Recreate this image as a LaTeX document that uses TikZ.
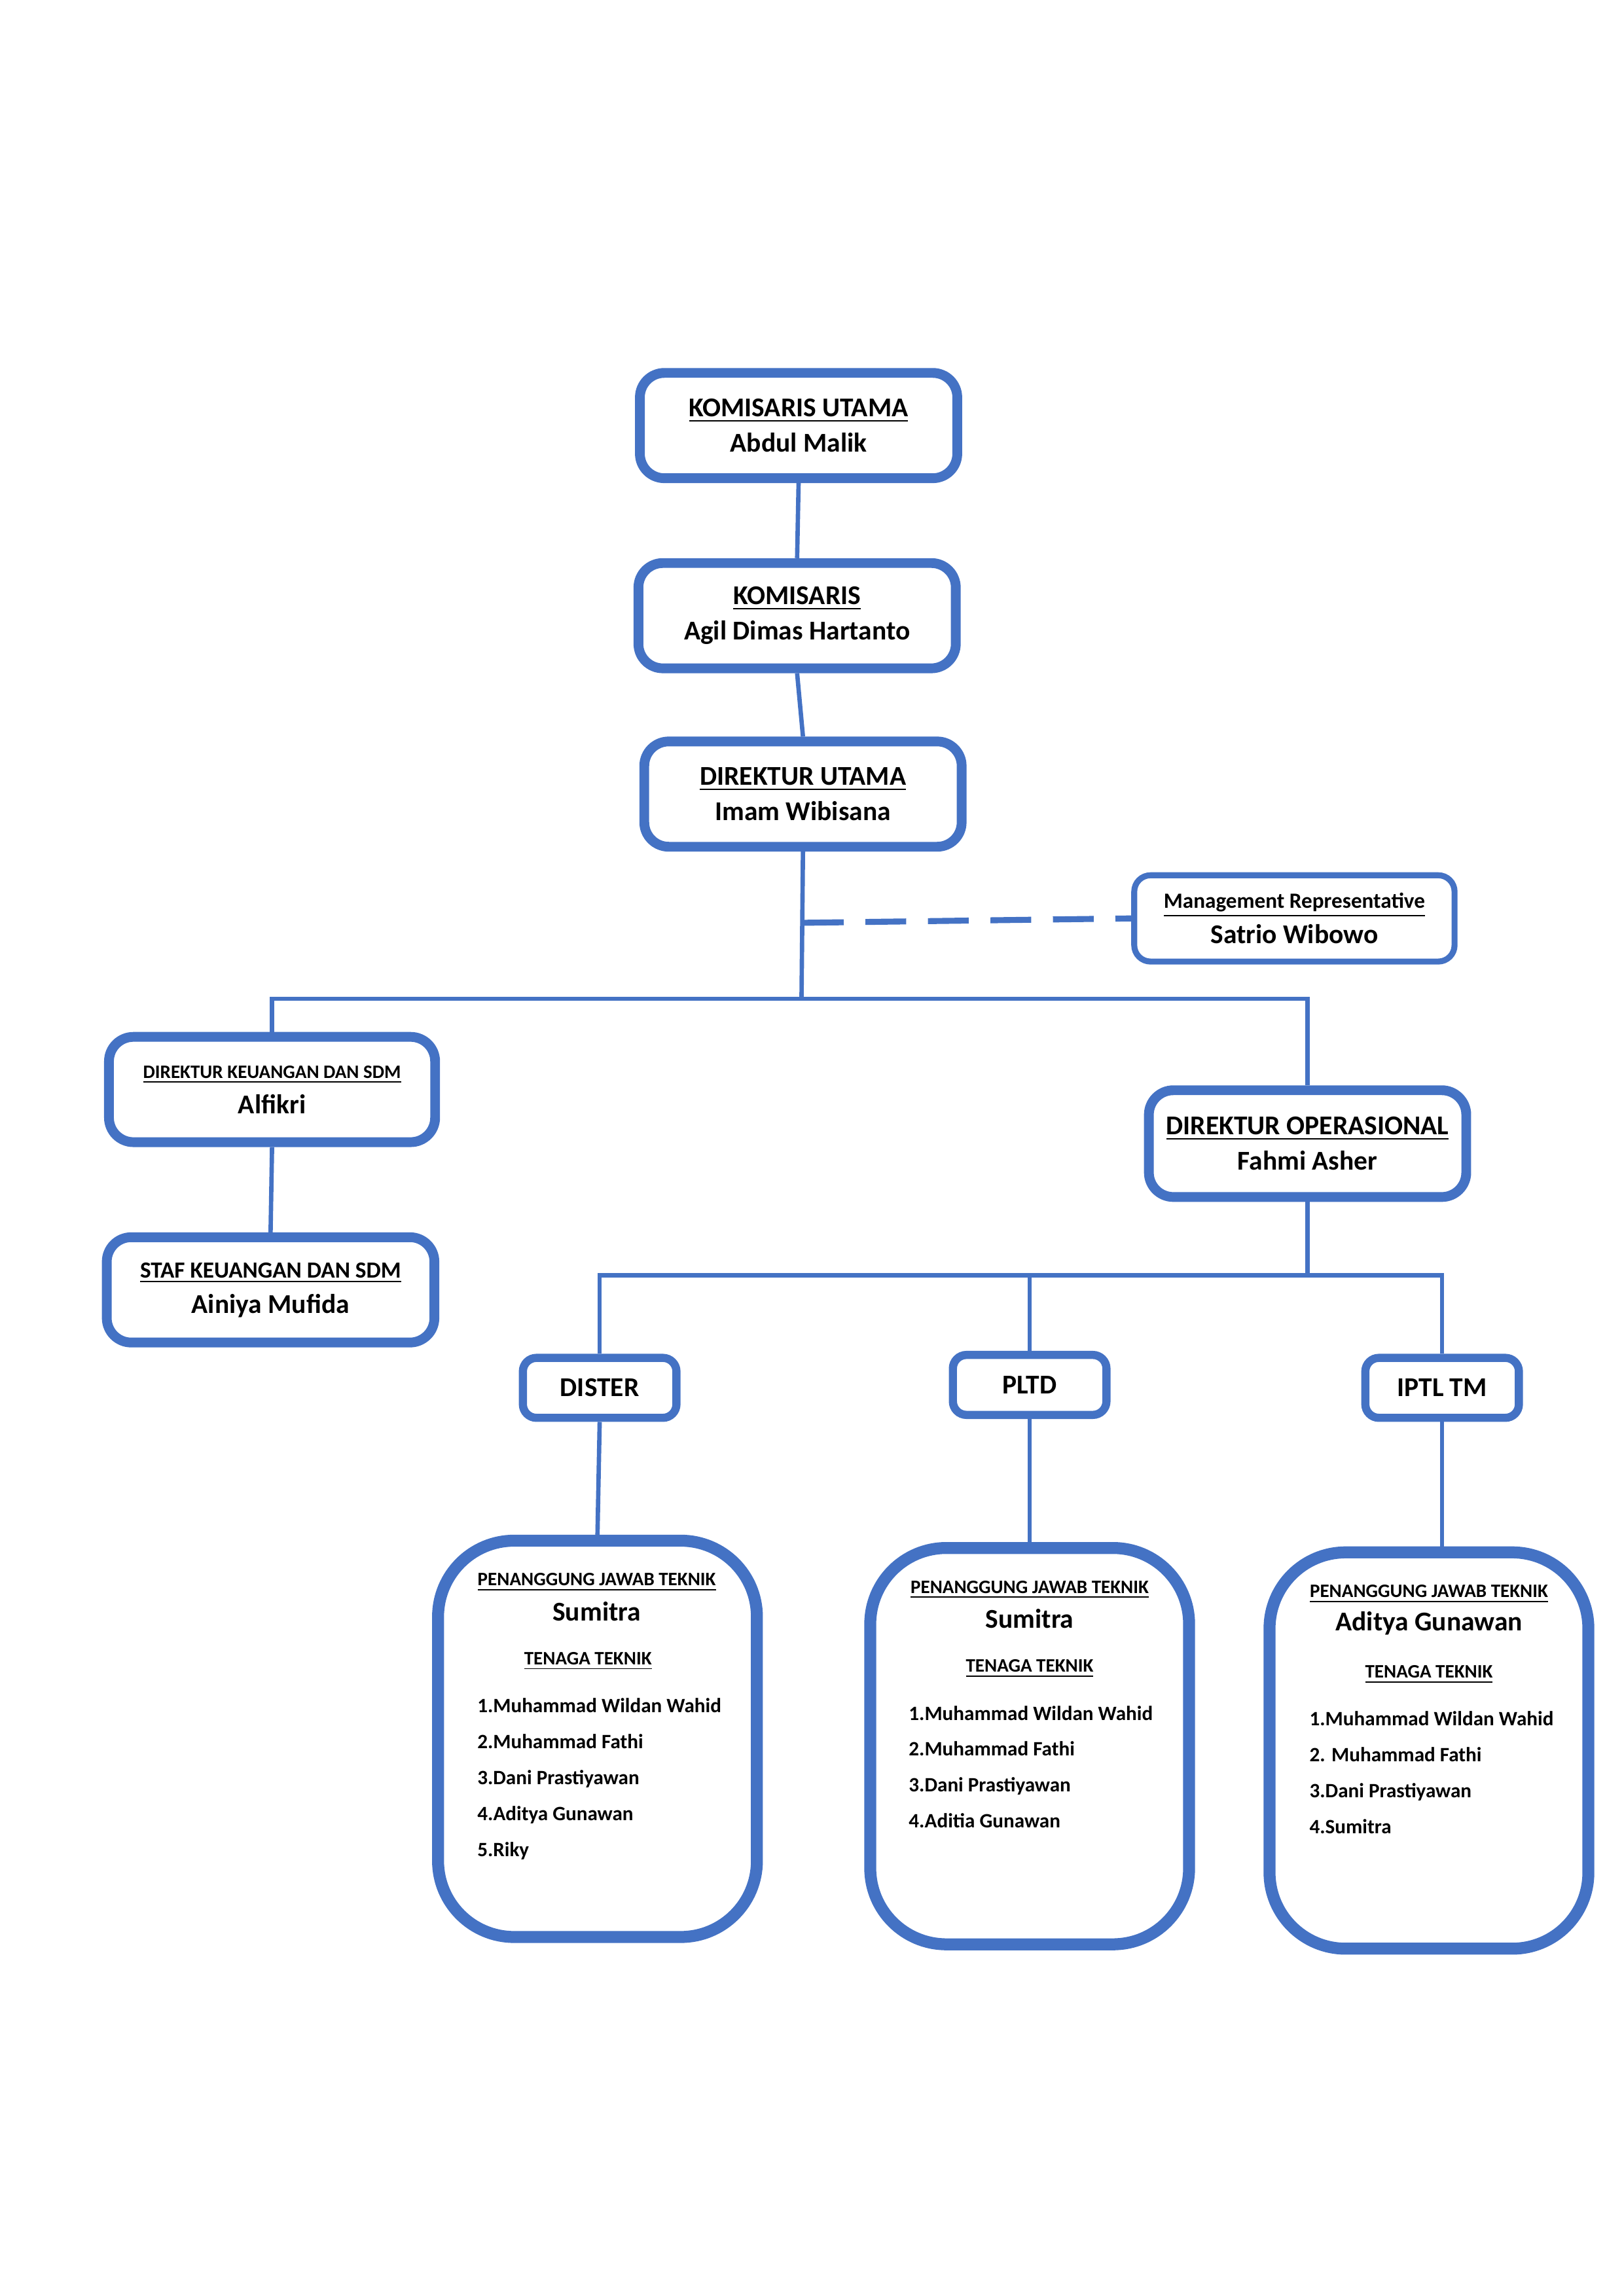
\documentclass[tikz,border=0pt]{standalone}
\usepackage{fontspec}
\setmainfont{Carlito}
\definecolor{bl}{HTML}{4472C4}
\newcommand\pu{0.18919mm}
\begin{document}
\begin{tikzpicture}[x=0.18919mm,y=-0.18919mm,
  thickbox/.style={draw=bl,line width=3.6pt,rounded corners=9pt,inner sep=0pt,align=center,font=\bfseries\fontsize{10}{13}\selectfont},
  thinbox/.style={draw=bl,line width=2.2pt,rounded corners=6pt,inner sep=0pt,align=center,font=\bfseries\fontsize{10}{13}\selectfont},
  bigbox/.style={draw=bl,line width=4.4pt,rounded corners=28pt,inner sep=0pt,minimum width=218*\pu,minimum height=271*\pu},
  conn/.style={draw=bl,line width=1.6pt},
  lab/.style={inner sep=0pt,font=\bfseries\fontsize{7}{8}\selectfont},
  nm/.style={inner sep=0pt,font=\bfseries\fontsize{10}{12}\selectfont},
  lst/.style={inner sep=0pt,anchor=north west,align=left,font=\bfseries\fontsize{7.5}{13.2}\selectfont}]
\useasboundingbox (0,0) rectangle (1110,1570);
\node[thickbox,minimum width=217*\pu,minimum height=72*\pu] (ku) at (546,291) {\underline{KOMISARIS UTAMA}\\Abdul Malik};
\node[thickbox,minimum width=217*\pu,minimum height=72*\pu] (kom) at (545,421) {\underline{KOMISARIS}\\Agil Dimas Hartanto};
\node[thickbox,minimum width=217*\pu,minimum height=72*\pu] (du) at (549,543) {\underline{DIREKTUR UTAMA}\\Imam Wibisana};
\node[thinbox,minimum width=219*\pu,minimum height=59*\pu] (mr) at (885,628) {{\fontsize{8}{10}\selectfont\underline{Management Representative}}\\Satrio Wibowo};
\node[thickbox,minimum width=223*\pu,minimum height=72*\pu] (dk) at (186,745) {{\fontsize{7}{10}\selectfont\underline{DIREKTUR KEUANGAN DAN SDM}}\\Alfikri};
\node[thickbox,minimum width=217*\pu,minimum height=73*\pu] (do) at (894,782) {\underline{DIREKTUR OPERASIONAL}\\Fahmi Asher};
\node[thickbox,minimum width=224*\pu,minimum height=72*\pu] (st) at (185,882) {{\fontsize{8.5}{11}\selectfont\underline{STAF KEUANGAN DAN SDM}}\\Ainiya Mufida};
\node[thickbox,rounded corners=5pt,line width=3pt,minimum width=105*\pu,minimum height=41*\pu] (ds) at (410,949) {DISTER};
\node[thickbox,rounded corners=5pt,line width=3pt,minimum width=105*\pu,minimum height=41*\pu] (pl) at (704,947) {PLTD};
\node[thickbox,rounded corners=5pt,line width=3pt,minimum width=105*\pu,minimum height=41*\pu] (ip) at (986,949) {IPTL TM};
\node[bigbox] (b1) at (408.5,1189) {};
\node[bigbox] (b2) at (704,1194) {};
\node[bigbox] (b3) at (977,1197) {};
% texts in big boxes
\node[lab] at (408,1082) {\underline{PENANGGUNG JAWAB TEKNIK}};
\node[nm] at (408,1102) {Sumitra};
\node[lab] at (402,1136) {\underline{TENAGA TEKNIK}};
\node[lst] at (326,1161) {1.Muhammad Wildan Wahid\\2.Muhammad Fathi\\3.Dani Prastiyawan\\4.Aditya Gunawan\\5.Riky};
\node[lab] at (704,1087) {\underline{PENANGGUNG JAWAB TEKNIK}};
\node[nm] at (704,1107) {Sumitra};
\node[lab] at (704,1141) {\underline{TENAGA TEKNIK}};
\node[lst] at (621,1166) {1.Muhammad Wildan Wahid\\2.Muhammad Fathi\\3.Dani Prastiyawan\\4.Aditia Gunawan};
\node[lab] at (977,1090) {\underline{PENANGGUNG JAWAB TEKNIK}};
\node[nm] at (977,1110) {Aditya Gunawan};
\node[lab] at (977,1145) {\underline{TENAGA TEKNIK}};
\node[lst] at (895,1170) {1.Muhammad Wildan Wahid\\2. Muhammad Fathi\\3.Dani Prastiyawan\\4.Sumitra};
% connectors
\coordinate (j1) at (548,683);
\coordinate (j2) at (894,872);
\coordinate (dj) at (549,631);
\draw[conn] (ku.south) -- (kom.north);
\draw[conn] (kom.south) -- (du.north);
\draw[conn] (du.south) -- (j1);
\draw[conn,dashed,dash pattern=on 15pt off 8pt,line width=2.2pt] (dj) -- (mr.west);
\draw[conn] (dk.north) |- (j1) -| (do.north);
\draw[conn] (dk.south) -- (st.north);
\draw[conn] (do.south) -- (j2);
\draw[conn] (ds.north) |- (j2) -| (ip.north);
\draw[conn] (pl.north) -- (pl.north |- j2);
\draw[conn] (ds.south) -- (b1.north);
\draw[conn] (pl.south) -- (b2.north);
\draw[conn] (ip.south) -- (b3.north -| ip.south);
\end{tikzpicture}
\end{document}
